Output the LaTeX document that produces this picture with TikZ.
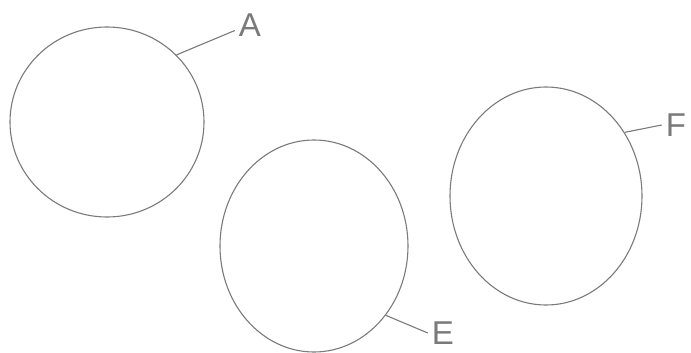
\documentclass[tikz,border=0pt]{standalone}
\usepackage{fontspec}
\setmainfont{Liberation Sans}
\usetikzlibrary{shapes.geometric}
\definecolor{pencil}{HTML}{7A7A7A}

\begin{document}
\begin{tikzpicture}[
  x=1pt, y=-1pt,
  every node/.style={font=\fontsize{33}{33}\selectfont, text=pencil},
  blob/.style={ellipse, draw=pencil, line width=1.1pt, inner sep=0pt},
  tag/.style={inner sep=4pt},
  lead/.style={draw=pencil, line width=1.1pt},
]
\useasboundingbox (0,0) rectangle (691,353);
\node[blob, minimum width=194, minimum height=190] (ca) at (107, 122) {};
\node[blob, minimum width=188, minimum height=212] (ce) at (314, 246) {};
\node[blob, minimum width=192, minimum height=218] (cf) at (546, 196) {};
\node[tag] (la) at (250, 25)  {A};
\node[tag] (le) at (443, 333) {E};
\node[tag] (lf) at (676, 125) {F};
\draw[lead] (ca.44)  -- (la.200);
\draw[lead] (ce.-44) -- (le.west);
\draw[lead] (cf.39)  -- (lf.west);
\end{tikzpicture}
\end{document}
